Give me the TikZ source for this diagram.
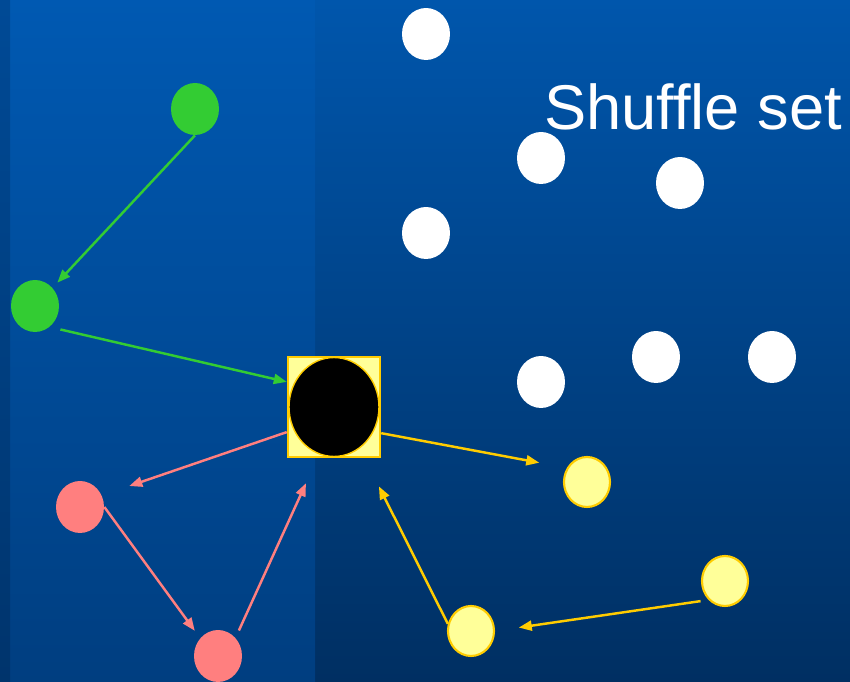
\documentclass[tikz,border=0pt]{standalone}
\usepackage{fontspec}
\setmainfont{Liberation Sans}
\usetikzlibrary{arrows.meta,shapes.geometric}
\definecolor{fondoA}{HTML}{0056AC}
\definecolor{fondoB}{HTML}{002F62}
\definecolor{panelA}{HTML}{0059B2}
\definecolor{panelB}{HTML}{003E80}
\definecolor{bordeA}{HTML}{004A96}
\definecolor{bordeB}{HTML}{00346C}
\definecolor{verdeA}{HTML}{33CC33}
\definecolor{rosaA}{HTML}{FF7F7F}
\definecolor{amarilloA}{HTML}{FFFF99}
\definecolor{oroA}{HTML}{FFCC00}
\begin{document}
\begin{tikzpicture}[x=0.02cm, y=-0.02cm,
	punto/.style={ellipse, minimum width=0.96cm, minimum height=1.04cm, inner sep=0pt},
	blanco/.style={punto, fill=white},
	verde/.style={punto, fill=verdeA},
	rosa/.style={punto, fill=rosaA},
	amarillo/.style={punto, fill=amarilloA, draw=oroA, line width=1.2pt,
		minimum width=0.92cm, minimum height=1.0cm},
	flecha/.style={line width=1.4pt, -{Triangle[length=0.26cm,width=0.2cm]}}]

\useasboundingbox (0,0) rectangle (850,682);

% Fondo
\shade[top color=fondoA, bottom color=fondoB] (0,0) rectangle (850,682);
\shade[top color=panelA, bottom color=panelB] (10,0) rectangle (315,682);
\shade[top color=bordeA, bottom color=bordeB] (0,0) rectangle (10,682);

\node[anchor=base west, inner sep=0pt, text=white, font=\fontsize{36}{40}\selectfont]
	(titulo) at (544,130) {Shuffle set};

% Conjunto
\foreach \x/\y [count=\i] in {426/34, 541/158, 680/183, 426/233, 541/382, 656/357, 772/357}
	\node[blanco] (b\i) at (\x,\y) {};

\node[draw=oroA, fill=amarilloA, line width=1.4pt, minimum width=1.84cm,
	minimum height=2cm, inner sep=0pt] (centro) at (334,407) {};
\node[ellipse, fill=black, draw=oroA, line width=0.8pt, minimum width=1.8cm,
	minimum height=1.98cm, inner sep=0pt] (nucleo) at (334,407) {};

\node[verde] (v1) at (195,109) {};
\node[verde] (v2) at (35,306) {};
\node[rosa] (r1) at (80,507) {};
\node[rosa] (r2) at (218,656) {};
\node[amarillo] (a1) at (587,482) {};
\node[amarillo] (a2) at (471,631) {};
\node[amarillo] (a3) at (725,581) {};

% Flechas
\draw[flecha, verdeA, shorten >=0.14cm] (v1.south) -- (v2.46);
\draw[flecha, verdeA, shorten <=0.22cm] (v2.-55) -- (centro.152);
\draw[flecha, rosaA, shorten >=0.58cm] (centro.208) -- (r1.28);
\draw[flecha, rosaA, shorten >=0.18cm] (r1.east) -- (r2.135);
\draw[flecha, rosaA, shorten <=0.16cm, shorten >=0.55cm] (r2.46) -- (centro.252);
\draw[flecha, oroA, shorten >=0.56cm] (centro.-29) -- (a1.145);
\draw[flecha, oroA, shorten >=0.63cm] (a2.163) -- (centro.-59);
\draw[flecha, oroA, shorten <=0.16cm, shorten >=0.48cm] (a3.229) -- (a2.east);
\end{tikzpicture}
\end{document}
